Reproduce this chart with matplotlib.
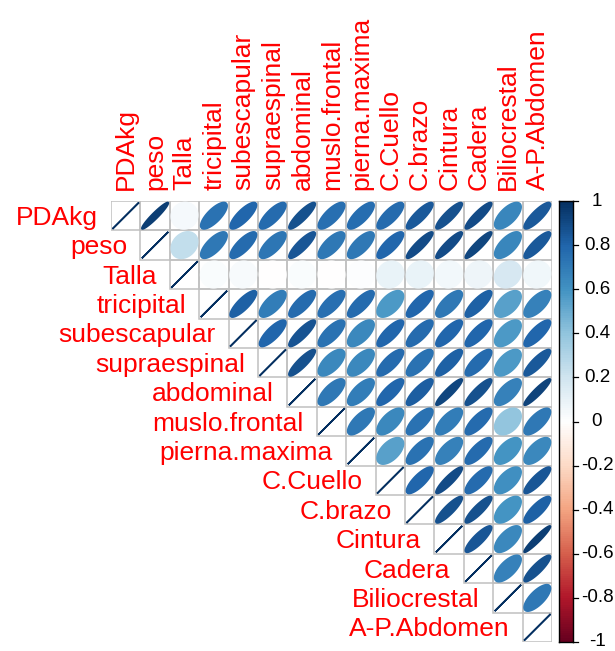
import numpy as np
import matplotlib
matplotlib.use("Agg")
import matplotlib.pyplot as plt
from matplotlib.colors import LinearSegmentedColormap
from matplotlib.patches import Polygon, Rectangle

plt.rcParams["font.family"] = ["Liberation Sans", "DejaVu Sans"]

variables = ["PDAkg", "peso", "Talla", "tricipital", "subescapular",
             "supraespinal", "abdominal", "muslo.frontal", "pierna.maxima",
             "C.Cuello", "C.brazo", "Cintura", "Cadera", "Biliocrestal",
             "A-P.Abdomen"]

# Upper-triangle correlations, row by row (columns to the right of the diagonal)
r_PDAkg = [0.95, 0.05, 0.75, 0.80, 0.78, 0.88, 0.76, 0.77, 0.78, 0.85, 0.88, 0.90, 0.66, 0.85]
r_peso = [0.25, 0.72, 0.78, 0.73, 0.86, 0.72, 0.72, 0.80, 0.90, 0.90, 0.92, 0.66, 0.85]
r_Talla = [0.03, 0.04, -0.01, 0.03, -0.01, 0.02, 0.10, 0.10, 0.06, 0.08, 0.18, 0.07]
r_tricipital = [0.82, 0.70, 0.78, 0.76, 0.78, 0.58, 0.80, 0.72, 0.82, 0.55, 0.68]
r_subescapular = [0.80, 0.87, 0.75, 0.65, 0.80, 0.78, 0.80, 0.80, 0.58, 0.80]
r_supraespinal = [0.88, 0.65, 0.65, 0.78, 0.75, 0.82, 0.78, 0.58, 0.85]
r_abdominal = [0.72, 0.70, 0.80, 0.83, 0.92, 0.88, 0.68, 0.93]
r_muslo = [0.72, 0.65, 0.75, 0.70, 0.78, 0.40, 0.72]
r_pierna = [0.55, 0.75, 0.68, 0.78, 0.60, 0.65]
r_cuello = [0.80, 0.90, 0.78, 0.62, 0.86]
r_brazo = [0.88, 0.88, 0.60, 0.82]
r_cintura = [0.86, 0.65, 0.95]
r_cadera = [0.68, 0.88]
r_bilio = [0.72]

upper_rows = [r_PDAkg, r_peso, r_Talla, r_tricipital, r_subescapular,
              r_supraespinal, r_abdominal, r_muslo, r_pierna, r_cuello,
              r_brazo, r_cintura, r_cadera, r_bilio, []]

legend_ticks = [1, 0.8, 0.6, 0.4, 0.2, 0, -0.2, -0.4, -0.6, -0.8, -1]
legend_labels = ["1", "0.8", "0.6", "0.4", "0.2", "0",
                 "-0.2", "-0.4", "-0.6", "-0.8", "-1"]

n = len(variables)
corr = np.eye(n)
for i, row in enumerate(upper_rows):
    for k, v in enumerate(row):
        corr[i, i + 1 + k] = v
        corr[i + 1 + k, i] = v

rdbu = ["#67001F", "#B2182B", "#D6604D", "#F4A582", "#FDDBC7", "#FFFFFF",
        "#D1E5F0", "#92C5DE", "#4393C3", "#2166AC", "#053061"]
cmap = LinearSegmentedColormap.from_list("rdbu200", rdbu, N=200)
palette = [cmap(i) for i in range(200)]


def corr_color(r):
    idx = int(round((r + 1) / 2 * 199))
    return palette[min(max(idx, 0), 199)]


W, H = 615, 651
fig = plt.figure(figsize=(W / 100, H / 100), dpi=100)

gx0, gy0, cell = 111, 201, 29.4
side = n * cell
ax = fig.add_axes([gx0 / W, (H - gy0 - side) / H, side / W, side / H])
ax.set_xlim(0, n)
ax.set_ylim(0, n)
ax.axis("off")

scale = 0.9
k = np.linspace(0, 2 * np.pi, 99)
for i in range(n):
    yc = n - 1 - i + 0.5
    for j in range(i, n):
        xc = j + 0.5
        ax.add_patch(Rectangle((j, n - 1 - i), 1, 1, fill=False,
                               edgecolor="#C0C0C0", linewidth=1.1, zorder=1))
        r = corr[i, j]
        a = np.arccos(np.clip(r, -1, 1))
        ex = np.cos(k + a / 2) / 2 * scale + xc
        ey = np.cos(k - a / 2) / 2 * scale + yc
        c = corr_color(r)
        ax.add_patch(Polygon(np.column_stack([ex, ey]), closed=True,
                             facecolor=c, edgecolor=c, linewidth=1.2, zorder=2))

label_size = 19
for i, name in enumerate(variables):
    yc = n - 1 - i + 0.5
    ax.text(i - 0.45, yc - 0.31, name, ha="right", va="baseline",
            color="#FF0000", fontsize=label_size, clip_on=False)
    ax.text(i + 0.5 + 0.25, n + 0.37, name, ha="left", va="baseline",
            rotation=90, rotation_mode="anchor", color="#FF0000",
            fontsize=label_size, clip_on=False)

# colour legend
cb_x0, cb_w = 559, 14
cax = fig.add_axes([cb_x0 / W, (H - gy0 - side) / H, cb_w / W, side / H])
grad = np.linspace(-1, 1, 200).reshape(-1, 1)
cax.imshow(grad, cmap=cmap, aspect="auto", origin="lower",
           extent=[0, 1, -1, 1], vmin=-1, vmax=1, interpolation="nearest")
cax.set_xlim(0, 1)
cax.set_ylim(-1, 1)
cax.set_xticks([])
cax.set_yticks([])
for sp in cax.spines.values():
    sp.set_color("black")
    sp.set_linewidth(1.0)

for v, lab in zip(legend_ticks, legend_labels):
    yp = (H - gy0 - side) + (v + 1) / 2 * side
    fig.add_artist(plt.Line2D([(cb_x0 + cb_w) / W, (cb_x0 + cb_w + 5) / W],
                              [yp / H, yp / H], color="black", linewidth=0.9))
    fig.text(597 / W, yp / H, lab, ha="center", va="center",
             fontsize=13.5, color="black")

fig.savefig("out.png", dpi=100, facecolor="white")
